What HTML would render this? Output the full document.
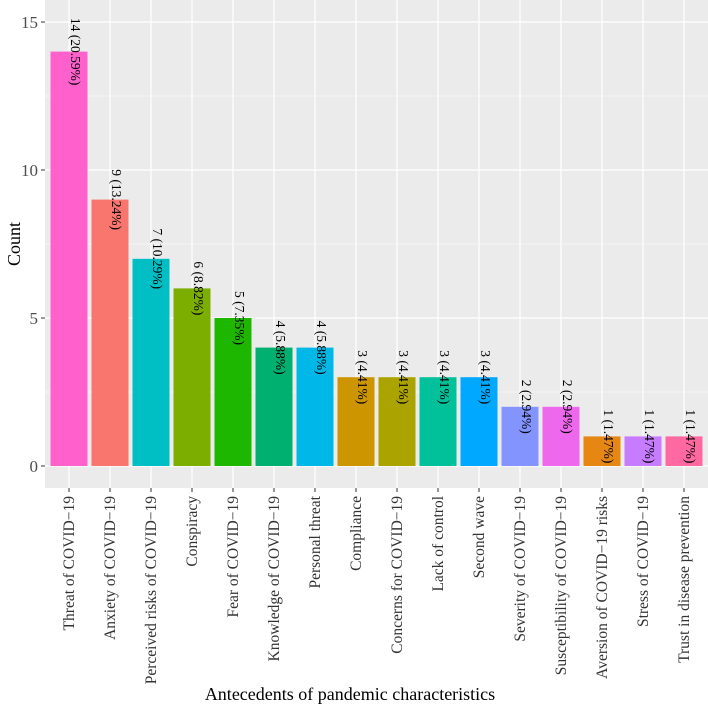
<!DOCTYPE html>
<html><head><meta charset="utf-8"><style>
body{margin:0;background:#fff;}
svg{display:block;font-family:"Liberation Serif",serif;}
</style></head><body>
<svg id="chart" width="708" height="708">
<rect x="45" y="0" width="663" height="488" fill="#EBEBEB"/>
<g id="grid"></g><g id="bars"></g><g id="axes"></g>
<text x="350" y="700" text-anchor="middle" font-size="18">Antecedents of pandemic characteristics</text>
<text transform="translate(20,244) rotate(-90)" text-anchor="middle" font-size="18">Count</text>
</svg>
<script>
const categories=["Threat of COVID−19","Anxiety of COVID−19","Perceived risks of COVID−19","Conspiracy","Fear of COVID−19","Knowledge of COVID−19","Personal threat","Compliance","Concerns for COVID−19","Lack of control","Second wave","Severity of COVID−19","Susceptibility of COVID−19","Aversion of COVID−19 risks","Stress of COVID−19","Trust in disease prevention"];
const counts=[14,9,7,6,5,4,4,3,3,3,3,2,2,1,1,1];
const pctLabels=["20.59%","13.24%","10.29%","8.82%","7.35%","5.88%","5.88%","4.41%","4.41%","4.41%","4.41%","2.94%","2.94%","1.47%","1.47%","1.47%"];
const colors=["#FF61CC","#F8766D","#00BFC4","#7CAE00","#1DB700","#00B070","#00B8E7","#CD9600","#ABA300","#00C19A","#00A9FF","#8494FF","#ED68ED","#E68613","#C77CFF","#FF68A1"];
const yTicks=[0,5,10,15];
const NS="http://www.w3.org/2000/svg";
const y=v=>466-v*29.6;
const x=i=>69+i*41;
function mk(t,a,p){const e=document.createElementNS(NS,t);for(const k in a)e.setAttribute(k,a[k]);p.appendChild(e);return e;}
const grid=document.getElementById('grid'),bars=document.getElementById('bars'),axes=document.getElementById('axes');
for(let v=2.5;v<16;v+=5){mk('line',{x1:45,x2:708,y1:y(v),y2:y(v),stroke:'#fff','stroke-width':0.6},grid);}
yTicks.forEach(v=>{
 const l=mk('line',{x1:45,x2:708,y1:y(v),y2:y(v),stroke:'#fff','stroke-width':1.2},grid);
 
 
 mk('line',{x1:41,x2:45,y1:y(v),y2:y(v),stroke:'#333','stroke-width':1},axes);
 const t=mk('text',{x:38,y:y(v)+6,'text-anchor':'end','font-size':17,fill:'#4d4d4d'},axes);
 t.textContent=v;
 
 
});
categories.forEach((c,i)=>{
 mk('line',{x1:x(i),x2:x(i),y1:0,y2:488,stroke:'#fff','stroke-width':1.2},grid);
 const r=mk('rect',{x:x(i)-18.5,y:y(counts[i]),width:37,height:y(0)-y(counts[i]),fill:colors[i]},bars);
 
 
 const lb=mk('text',{transform:`translate(${x(i)+2},${y(counts[i])}) rotate(90)`,'text-anchor':'middle','font-size':13.5,fill:'#000'},bars);
 lb.textContent=counts[i]+' ('+pctLabels[i]+')';
 
 
 mk('line',{x1:x(i),x2:x(i),y1:488,y2:492,stroke:'#333','stroke-width':1},axes);
 const t=mk('text',{transform:`translate(${x(i)+5},496) rotate(-90)`,'text-anchor':'end','font-size':15.5,fill:'#333'},axes);
 t.textContent=c;
 
 
});
</script>
</body></html>
